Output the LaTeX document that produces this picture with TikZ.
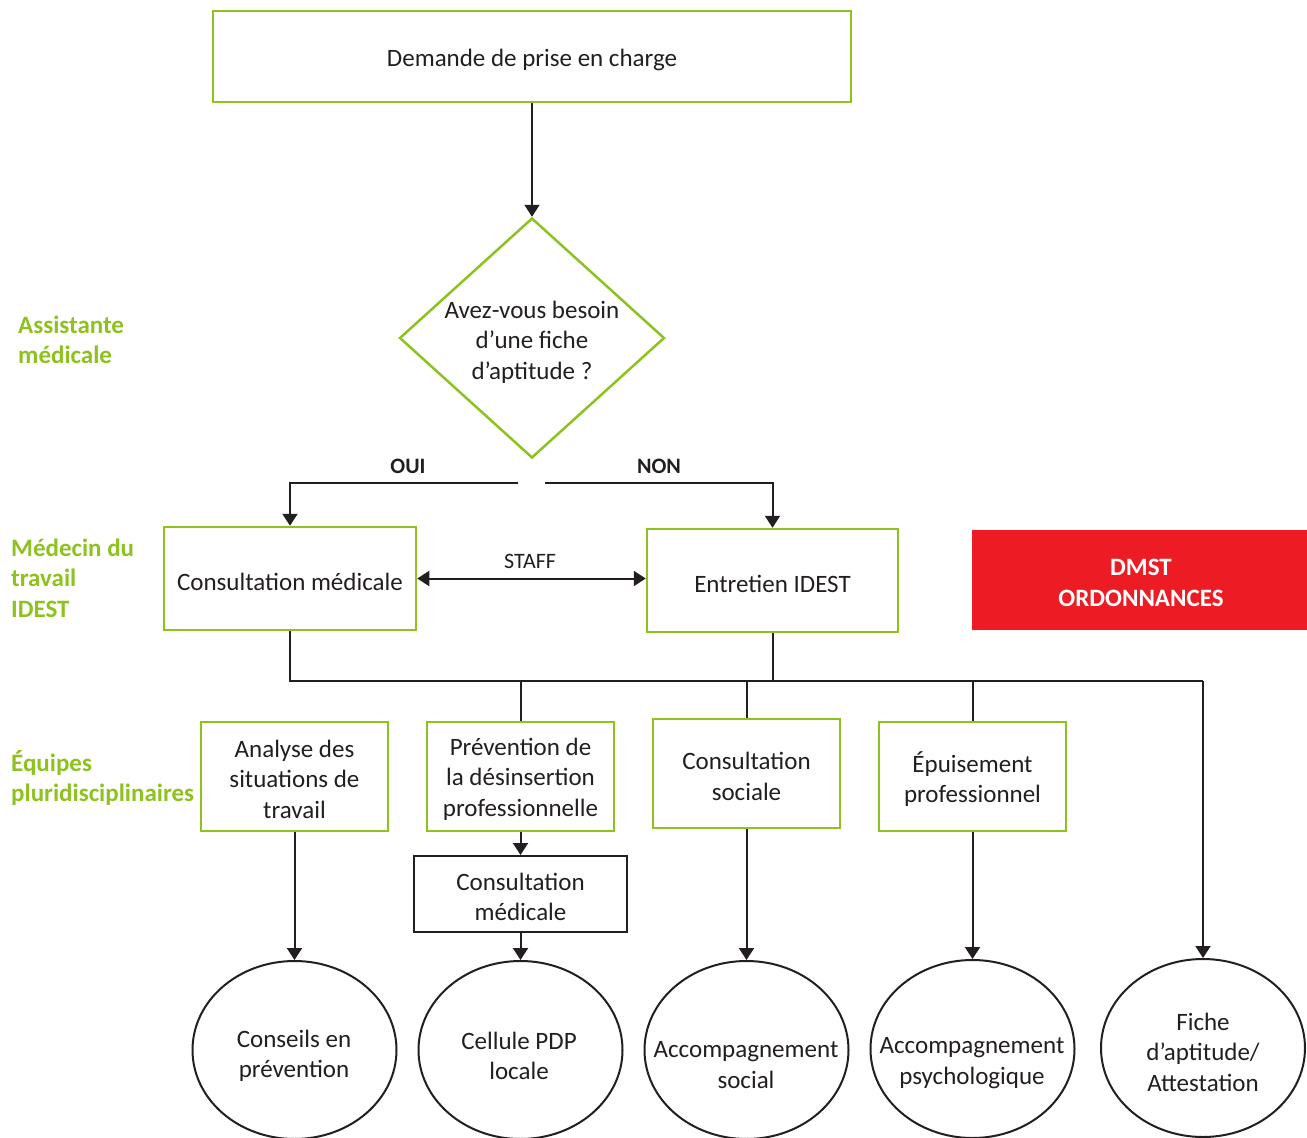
\documentclass[tikz,border=0pt]{standalone}
\usepackage{fontspec}
\setmainfont{Carlito}
\usetikzlibrary{shapes.geometric,arrows.meta}
\definecolor{vert}{HTML}{8DC21F}
\definecolor{rouge}{HTML}{ED1C24}
\definecolor{encre}{HTML}{231F20}
\newcommand\mainfs{\fontsize{25}{30.5}\selectfont}
\newcommand\smallfs{\fontsize{22}{26}\selectfont}
\newcommand\lowr[1]{\raisebox{-3pt}[\height][\depth]{#1}}
\begin{document}
\begin{tikzpicture}[x=1pt,y=-1pt,
  gbox/.style={draw=vert, line width=2.5pt, fill=white, inner sep=0pt, align=center, font=\mainfs, text=encre},
  kbox/.style={draw=encre, line width=2pt, fill=white, inner sep=0pt, align=center, font=\mainfs, text=encre},
  oval/.style={ellipse, draw=encre, line width=2pt, inner sep=0pt, minimum width=204pt, minimum height=178pt},
  txt/.style={align=center, font=\mainfs, text=encre, inner sep=0pt},
  role/.style={align=left, font=\mainfs\bfseries, text=vert, inner sep=0pt, anchor=west},
  lbl/.style={font=\smallfs, text=encre, inner sep=0pt},
  conn/.style={draw=encre, line width=2pt},
  arr/.style={conn, -{Triangle[width=15pt,length=12pt]}},
  dblarr/.style={conn, {Triangle[width=15pt,length=12pt]}-{Triangle[width=15pt,length=12pt]}}
]
\useasboundingbox (0,0) rectangle (1307,1138);
\fill[white] (0,0) rectangle (1307,1138);

% left role labels
\node[role] (r1) at (18,340) {Assistante\\médicale};
\node[role] (r2) at (11,578) {Médecin du\\travail\\IDEST};
\node[role] (r3) at (11,778) {Équipes\\pluridisciplinaires};

% top
\node[gbox, minimum width=638pt, minimum height=91pt] (dem) at (532,56.5) {\lowr{Demande de prise en charge}};
\node[diamond, draw=vert, line width=2.5pt, inner sep=0pt, minimum width=265pt, minimum height=240pt] (q) at (532,338) {};
\node[txt] (qt) at (532,342) {Avez-vous besoin\\d’une fiche\\d’aptitude ?};
\draw[arr] (dem.south) -- (q.north);

% second level
\node[gbox, minimum width=252pt, minimum height=103pt] (cm) at (290,578.5) {\lowr{Consultation médicale}};
\node[gbox, minimum width=251pt, minimum height=103pt] (ei) at (772.5,580.5) {\lowr{Entretien IDEST}};
\node[fill=rouge, inner sep=0pt, minimum width=335pt, minimum height=100pt, align=center, text=white, font=\mainfs\bfseries] (dmst) at (1139.5,580) {};
\node[txt, text=white, font=\mainfs\bfseries] (dmstt) at (1141,583) {DMST\\ORDONNANCES};

\coordinate (ol) at (518,483);
\coordinate (nr) at (545,483);
\draw[arr] (ol) -| (cm.north);
\draw[arr] (nr) -| (ei.north);
\node[lbl, font=\smallfs\bfseries] (oui) at (408,466) {OUI};
\node[lbl, font=\smallfs\bfseries] (non) at (659,466) {NON};
\draw[dblarr] (cm.east) -- (cm.east -| ei.west);
\node[lbl] (staff) at (530,561) {STAFF};

% third level
\node[gbox, minimum width=187pt, minimum height=109pt] (an) at (294.5,776.5) {};
\node[gbox, minimum width=187pt, minimum height=109pt] (pd) at (520.5,776.5) {};
\node[gbox, minimum width=187pt, minimum height=109pt] (cs) at (746.5,773.5) {};
\node[gbox, minimum width=187pt, minimum height=109pt] (ep) at (972.5,776.5) {};
\node[kbox, minimum width=213pt, minimum height=76pt] (cm2) at (520.5,894) {};
\node[txt] (ant) at (294.5,779) {Analyse des\\situations de\\travail};
\node[txt] (pdt) at (520.5,779) {Prévention de\\la désinsertion\\professionnelle};
\node[txt] (cst) at (746.5,776.5) {Consultation\\sociale};
\node[txt] (ept) at (972.5,779) {Épuisement\\professionnel};
\node[txt] (cm2t) at (520.5,897) {Consultation\\médicale};

% bus
\coordinate (be) at (1203,681);
\draw[conn] (cm.south) |- (be);
\draw[conn] (ei.south) -- (ei.south |- be);
\draw[conn] (pd.north |- be) -- (pd.north);
\draw[conn] (cs.north |- be) -- (cs.north);
\draw[conn] (ep.north |- be) -- (ep.north);

% ellipses
\node[oval] (e1) at (294.5,1050) {};
\node[oval] (e2) at (520.5,1050) {};
\node[oval] (e3) at (746.5,1050) {};
\node[oval] (e4) at (972.5,1049) {};
\node[oval] (e5) at (1203,1048) {};
\node[txt] (t1) at (294,1056) {Conseils en\\prévention};
\node[txt] (t2) at (519,1056) {Cellule PDP\\locale};
\node[txt] (t3) at (746,1065) {Accompagnement\\social};
\node[txt] (t4) at (972,1063) {Accompagnement\\psychologique};
\node[txt] (t5) at (1203,1052) {Fiche\\d’aptitude/\\Attestation};

\draw[arr] (an.south) -- (e1.north);
\draw[arr] (pd.south) -- (cm2.north);
\draw[arr] (cm2.south) -- (e2.north);
\draw[arr] (cs.south) -- (e3.north);
\draw[arr] (ep.south) -- (e4.north);
\draw[arr] (be) -- (e5.north);
\end{tikzpicture}
\end{document}
